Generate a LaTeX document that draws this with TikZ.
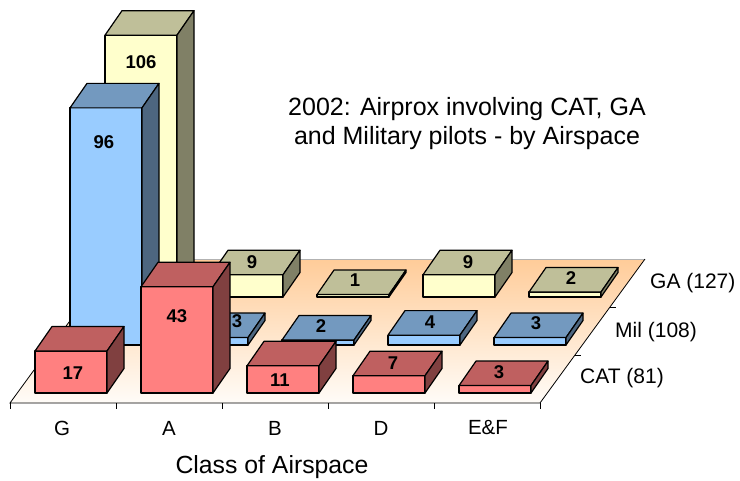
\documentclass[tikz,border=0pt]{standalone}
\usepackage{fontspec}
\setmainfont{Liberation Sans}
\definecolor{catF}{HTML}{FF8080}\definecolor{catT}{HTML}{BF6060}\definecolor{catS}{HTML}{804040}
\definecolor{milF}{HTML}{99CCFF}\definecolor{milT}{HTML}{7399BF}\definecolor{milS}{HTML}{4D6680}
\definecolor{gaF}{HTML}{FFFFCC}\definecolor{gaT}{HTML}{BFBF99}\definecolor{gaS}{HTML}{808066}
\definecolor{floorB}{HTML}{FFCC99}\definecolor{floorF}{HTML}{FFFCF8}
\newcommand{\drawbar}[4]{%
  \pgfmathsetmacro\bt{#2-#3*2.47}%
  \filldraw[barline,fill=#4F] (#1,#2) rectangle (#1+72,\bt);
  \filldraw[barline,fill=#4T] (#1,\bt) -- (#1+72,\bt) -- (#1+89,\bt-24.5) -- (#1+17,\bt-24.5) -- cycle;
  \filldraw[barline,fill=#4S] (#1+72,#2) -- (#1+72,\bt) -- (#1+89,\bt-24.5) -- (#1+89,#2-24.5) -- cycle;
}
\begin{document}
\begin{tikzpicture}[x=1pt,y=-1pt,
  barline/.style={draw=black,line width=1.2pt,line join=round},
  axisline/.style={draw=black,line width=0.8pt},
  vlab/.style={font=\fontsize{18.5}{22}\selectfont\bfseries,inner sep=0pt},
  catlab/.style={font=\fontsize{20.5}{24}\selectfont,inner sep=0pt},
  serlab/.style={font=\fontsize{21}{25}\selectfont,inner sep=0pt,anchor=west}]
\useasboundingbox (0,0) rectangle (740,480);
% floor
\coordinate (f1) at (10,403);
\coordinate (f2) at (540,403);
\coordinate (f3) at (645,259);
\coordinate (f4) at (115,259);
\shade[top color=floorB,bottom color=floorF] (f1) -- (f2) -- (f3) -- (f4) -- cycle;
\draw[gray!60,line width=0.6pt] (f4) -- (f3);
\draw[axisline] (f4) -- (f1) -- (f2) -- (f3);
\foreach \i in {0,...,5} {\draw[axisline] (10+106*\i,403) -- ++(0,6);}
\foreach \j in {1,2} {\draw[axisline] (540+35*\j,403-48*\j) -- ++(6,0);}
% GA row
\drawbar{105}{297}{106}{ga}
\node[vlab] (gaG) at (141,62) {106};
\drawbar{211}{297}{9}{ga}
\node[vlab] (gaA) at (252,262) {9};
\drawbar{317}{297}{1}{ga}
\node[vlab] (gaB) at (355,280) {1};
\drawbar{423}{297}{9}{ga}
\node[vlab] (gaD) at (468,262) {9};
\drawbar{529}{297}{2}{ga}
\node[vlab] (gaE) at (571,278) {2};
% Mil row
\drawbar{70}{345}{96}{mil}
\node[vlab] (milG) at (104,142) {96};
\drawbar{176}{345}{3}{mil}
\node[vlab] (milA) at (237,321) {3};
\drawbar{282}{345}{2}{mil}
\node[vlab] (milB) at (321,326) {2};
\drawbar{388}{345}{4}{mil}
\node[vlab] (milD) at (430,322) {4};
\drawbar{494}{345}{3}{mil}
\node[vlab] (milE) at (536,323) {3};
% CAT row
\drawbar{35}{393}{17}{cat}
\node[vlab] (catG) at (73,373) {17};
\drawbar{141}{393}{43}{cat}
\node[vlab] (catA) at (177,316) {43};
\drawbar{247}{393}{11}{cat}
\node[vlab] (catB) at (280,380) {11};
\drawbar{353}{393}{7}{cat}
\node[vlab] (catD) at (393,363) {7};
\drawbar{459}{393}{3}{cat}
\node[vlab] (catE) at (499,372) {3};
% axis labels
\node[catlab] (xG) at (62,428) {G};
\node[catlab] (xA) at (169,428) {A};
\node[catlab] (xB) at (275,428) {B};
\node[catlab] (xD) at (381,428) {D};
\node[catlab] (xE) at (488,428) {E\&F};
\node[font=\fontsize{24.8}{29}\selectfont,inner sep=0pt] (xtitle) at (272,467) {Class of Airspace};
\node[serlab] (sGA) at (650,283) {GA (127)};
\node[serlab] (sMil) at (615,332) {Mil (108)};
\node[serlab] (sCAT) at (580,378) {CAT (81)};
\node[font=\fontsize{25}{29.5}\selectfont,align=center,inner sep=0pt] (title) at (467,123.5)
  {2002: Airprox involving CAT, GA\\and Military pilots - by Airspace};
\end{tikzpicture}
\end{document}
